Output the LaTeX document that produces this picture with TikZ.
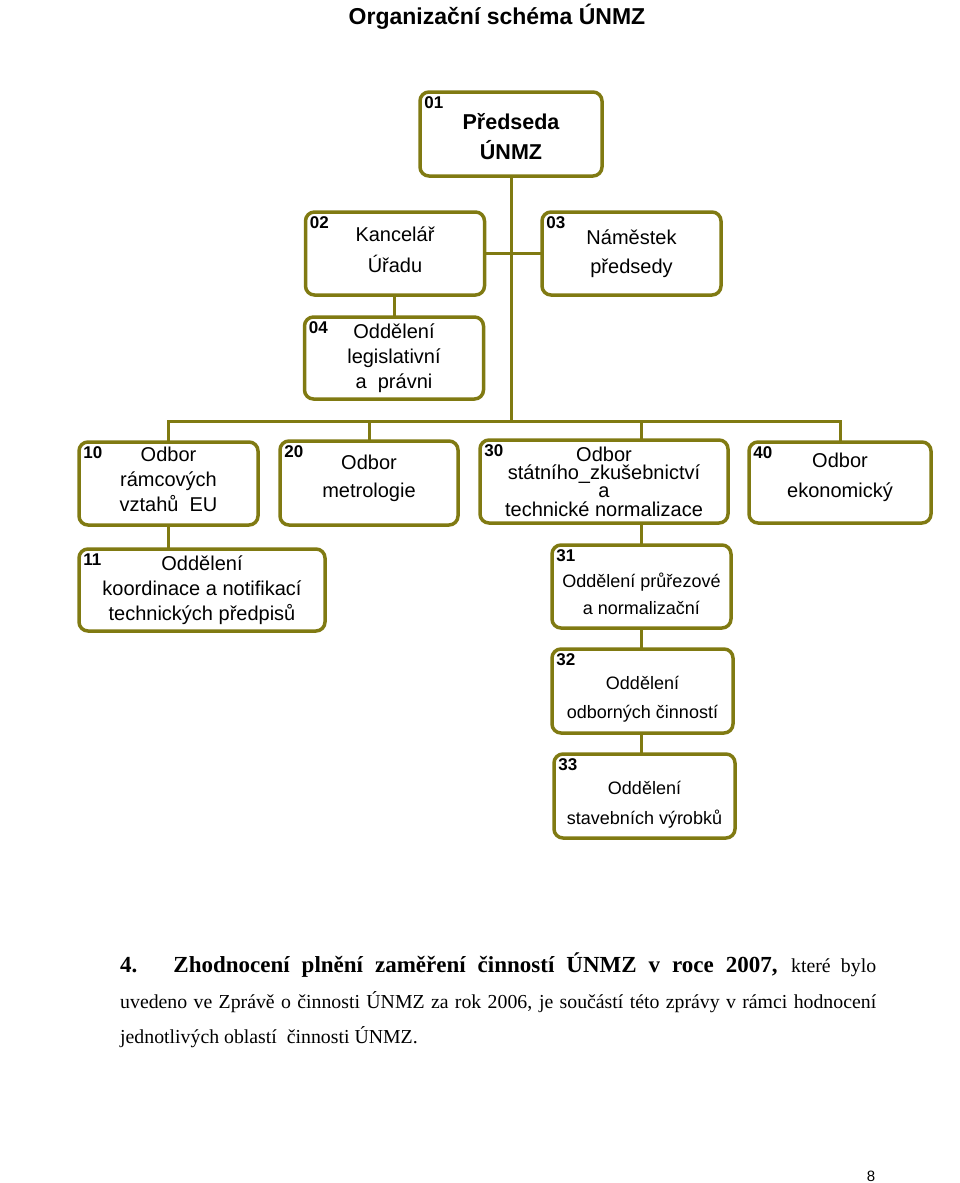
\documentclass[tikz,border=0pt]{standalone}
\usepackage{fontspec}
\setmainfont{Liberation Sans}
\newfontfamily\bodyfont{Liberation Serif}
\usetikzlibrary{positioning}
\definecolor{olivebox}{RGB}{128,122,18}
\tikzset{
  unit/.style={draw=olivebox,line width=3.5pt,rounded corners=9pt,align=center,inner sep=2pt,
    minimum width=179pt,minimum height=83pt,font=\fontsize{20}{25}\selectfont},
  smallunit/.style={unit,font=\fontsize{18}{25}\selectfont},
  num/.style={anchor=north west,inner xsep=6pt,inner ysep=6pt,font=\bfseries\fontsize{17}{17}\selectfont},
  link/.style={draw=olivebox,line width=3pt,line cap=rect},
}
\newcommand{\padtop}[1]{\rule{0pt}{#1}}
\newcommand{\padbot}[1]{\rule[-#1]{0pt}{#1}}

\begin{document}
\begin{tikzpicture}[x=1pt,y=-1pt]
  \useasboundingbox (0,0) rectangle (960,1183);
  \node[anchor=base,font=\bfseries\fontsize{23}{23}\selectfont] (title) at (497,24) {Organizační schéma ÚNMZ};
  % boxes
  \node[unit,minimum width=182pt,minimum height=84pt,font=\bfseries\fontsize{21.5}{25}\selectfont,
        label={[num]north west:01}] (n01) at (511,134) {\padtop{22pt}Předseda\\[5pt]ÚNMZ};
  \node[unit,label={[num]north west:02}] (n02) at (395,253.5) {Kancelář\\[6pt]Úřadu\padbot{8pt}};
  \node[unit,label={[num]north west:03}] (n03) at (631.5,253.5) {Náměstek\\[4pt]předsedy};
  \node[unit,minimum height=82pt,label={[num]north west:04}] (n04) at (394,358) {Oddělení\\legislativní\\a\ \ právni};
  \node[unit,label={[num]north west:10}] (n10) at (168.5,483.5) {Odbor\\rámcových\\vztahů\ \ EU\padbot{9pt}};
  \node[unit,minimum width=178pt,minimum height=84pt,label={[num]north west:20}] (n20) at (369,483)
        {Odbor\\[3pt]metrologie\padbot{13pt}};
  \node[unit,minimum width=248pt,label={[num]north west:30}] (n30) at (604,481.5)
        {Odbor\\[-7pt]státního\_zkušebnictví\\[-7pt]a\\[-6pt]technické normalizace};
  \node[unit,minimum width=182pt,minimum height=81pt,label={[num]north west:40}] (n40) at (840,482.5)
        {Odbor\\[5pt]ekonomický\padbot{14pt}};
  \node[unit,minimum width=246pt,minimum height=82pt,label={[num]north west:11}] (n11) at (202,590)
        {Oddělení\\koordinace a notifikací\\technických předpisů};
  \node[smallunit,label={[num]north west:31}] (n31) at (641.5,586.5) {\padtop{30pt}Oddělení průřezové\\[2pt]a normalizační};
  \node[smallunit,minimum width=181pt,minimum height=84pt,label={[num]north west:32}] (n32) at (642.5,691)
        {\padtop{30pt}Oddělení\\[4pt]odborných činností};
  \node[smallunit,minimum width=181pt,minimum height=84pt,label={[num]north west:33}] (n33) at (644.5,796)
        {\padtop{30pt}Oddělení\\[5pt]stavebních výrobků};
  % connectors
  \coordinate (bus) at (0,421);
  \draw[link] (n01.south) -- (n01.south |- bus);
  \draw[link] (n02.east) -- (n03.west);
  \draw[link] (n02.south -| n04.north) -- (n04.north);
  \draw[link] (n10.north |- bus) -- (n40.north |- bus);
  \foreach \n in {n10,n20,n40}{\draw[link] (\n.north |- bus) -- (\n.north);}
  \draw[link] (n31.north |- bus) -- (n31.north |- n30.north);
  \draw[link] (n31.north |- n30.south) -- (n31.north);
  \draw[link] (n31.south) -- (n31.south |- n32.north);
  \draw[link] (n32.south -| n31.south) -- (n31.south |- n33.north);
  \draw[link] (n10.south) -- (n11.north -| n10.south);
  % text below
  \node[anchor=base west,inner sep=0pt,font=\bodyfont\fontsize{19.8}{24}\selectfont] (line1) at (120,972)
        {\hbox to 756pt{\bfseries\fontsize{23}{24}\selectfont 4.\hspace{36pt}Zhodnocení plnění zaměření činností ÚNMZ v roce 2007,
        \mdseries\fontsize{19.8}{24}\selectfont které bylo}};
  \node[anchor=base west,inner sep=0pt,font=\bodyfont\fontsize{19.8}{24}\selectfont] (line2) at (120,1008)
        {\hbox to 756pt{uvedeno ve Zprávě o činnosti ÚNMZ za rok 2006, je součástí této zprávy v rámci hodnocení}};
  \node[anchor=base west,inner sep=0pt,font=\bodyfont\fontsize{19.8}{24}\selectfont] (line3) at (120,1043)
        {jednotlivých oblastí\ \ činnosti ÚNMZ.};
  \node[anchor=base,font=\fontsize{15}{15}\selectfont] (page) at (871,1181) {8};
\end{tikzpicture}
\end{document}
